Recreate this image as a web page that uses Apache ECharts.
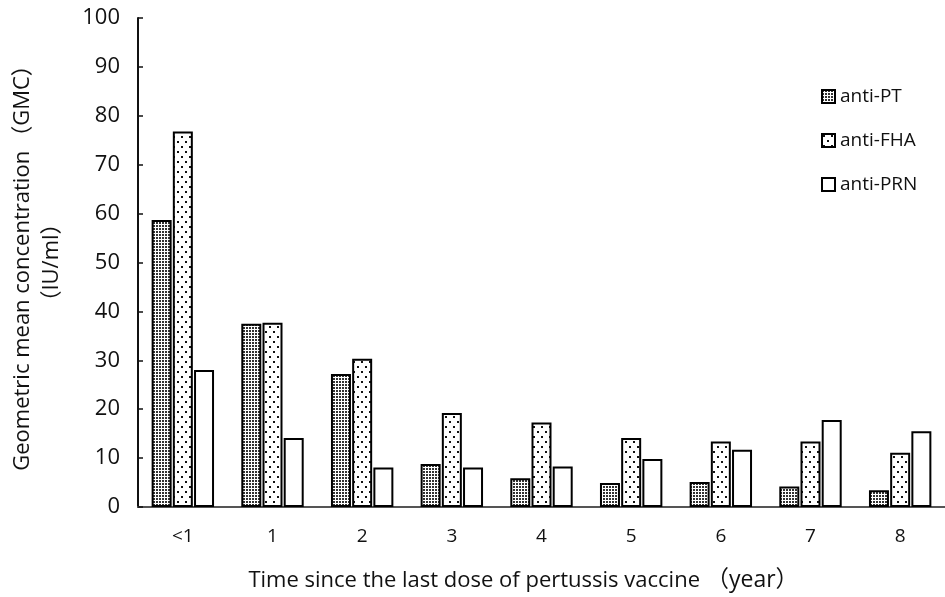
<!DOCTYPE html>
<html>
<head>
<meta charset="utf-8">
<script src="https://cdn.jsdelivr.net/npm/echarts@6/dist/echarts.min.js"></script>
<style>
html,body{margin:0;padding:0;background:#fff;}
#chart{width:945px;height:597px;}
</style>
</head>
<body>
<div id="chart"></div>
<script>
var categories = ['<1', '1', '2', '3', '4', '5', '6', '7', '8'];
var antiPT  = [58.7, 37.5, 27.2, 8.8, 5.9, 4.9, 5.1, 4.2, 3.4];
var antiFHA = [76.8, 37.7, 30.3, 19.2, 17.3, 14.1, 13.4, 13.4, 11.1];
var antiPRN = [28.0, 14.1, 8.1, 8.1, 8.3, 9.8, 11.7, 17.8, 15.5];
var yTicks = [0, 10, 20, 30, 40, 50, 60, 70, 80, 90, 100];

function makePattern(kind) {
  var c = document.createElement('canvas');
  var ctx = c.getContext('2d');
  if (kind === 'dense') {
    c.width = 3; c.height = 3;
    ctx.fillStyle = '#fff'; ctx.fillRect(0, 0, 3, 3);
    ctx.fillStyle = '#333';
    ctx.fillRect(0, 0, 2, 2);
  } else {
    c.width = 8; c.height = 10;
    ctx.fillStyle = '#fff'; ctx.fillRect(0, 0, 8, 10);
    ctx.fillStyle = '#111';
    ctx.fillRect(1, 1, 2, 2);
    ctx.fillRect(5, 6, 2, 2);
  }
  return { image: c, repeat: 'repeat' };
}

var FONT = '"Open Sans", "Noto Sans CJK SC", sans-serif';
var chart = echarts.init(document.getElementById('chart'));

function barSeries(name, data, fill) {
  return {
    name: name,
    type: 'bar',
    data: data,
    barWidth: 20,
    barGap: '6%',
    itemStyle: { color: fill, borderColor: '#000', borderWidth: 2 },
    emphasis: { disabled: true }
  };
}

chart.setOption({
  animation: false,
  backgroundColor: '#fff',
  grid: { left: 121, right: -13, top: 18, bottom: 88, containLabel: false },
  legend: {
    orient: 'vertical',
    left: 816,
    top: 82,
    itemWidth: 13,
    itemHeight: 13,
    itemGap: 25,
    icon: 'rect',
    textStyle: { fontFamily: FONT, fontSize: 19, color: '#111' },
    data: ['anti-PT', 'anti-FHA', 'anti-PRN']
  },
  xAxis: {
    type: 'category',
    data: categories,
    axisLine: { lineStyle: { color: '#555', width: 2 } },
    axisTick: { show: false },
    axisLabel: { fontFamily: FONT, fontSize: 19, color: '#111', margin: 20 },
    name: '{a|Time since the last dose of pertussis vaccine}{b|（year）}',
    nameLocation: 'middle',
    nameGap: 62,
    nameTextStyle: {
      fontFamily: FONT, fontSize: 22, color: '#111', padding: [0, 36, 0, 0],
      rich: {
        a: { fontFamily: FONT, fontSize: 22, color: '#111' },
        b: { fontFamily: FONT, fontSize: 23, color: '#111', padding: [0, 0, 0, 6] }
      }
    }
  },
  yAxis: {
    type: 'value',
    min: yTicks[0],
    max: yTicks[yTicks.length - 1],
    interval: 10,
    axisLine: { show: true, lineStyle: { color: '#111', width: 2 } },
    axisTick: { show: true, inside: true, length: 5, lineStyle: { color: '#111', width: 1.5 } },
    splitLine: { show: false },
    axisLabel: { fontFamily: FONT, fontSize: 22, color: '#111', margin: 18 },
    name: '{a|Geometric mean concentration}{b|（GMC）}\n{a|（IU/ml）}',
    nameLocation: 'middle',
    nameGap: 72,
    nameTextStyle: {
      fontFamily: FONT, fontSize: 22, color: '#111', lineHeight: 29, align: 'center',
      rich: {
        a: { fontFamily: FONT, fontSize: 22, color: '#111', lineHeight: 29 },
        b: { fontFamily: FONT, fontSize: 22, color: '#111', lineHeight: 29, padding: [0, 0, 0, 3] }
      }
    }
  },
  series: [
    barSeries('anti-PT', antiPT, makePattern('dense')),
    barSeries('anti-FHA', antiFHA, makePattern('sparse')),
    barSeries('anti-PRN', antiPRN, '#fff')
  ]
});
</script>
</body>
</html>
